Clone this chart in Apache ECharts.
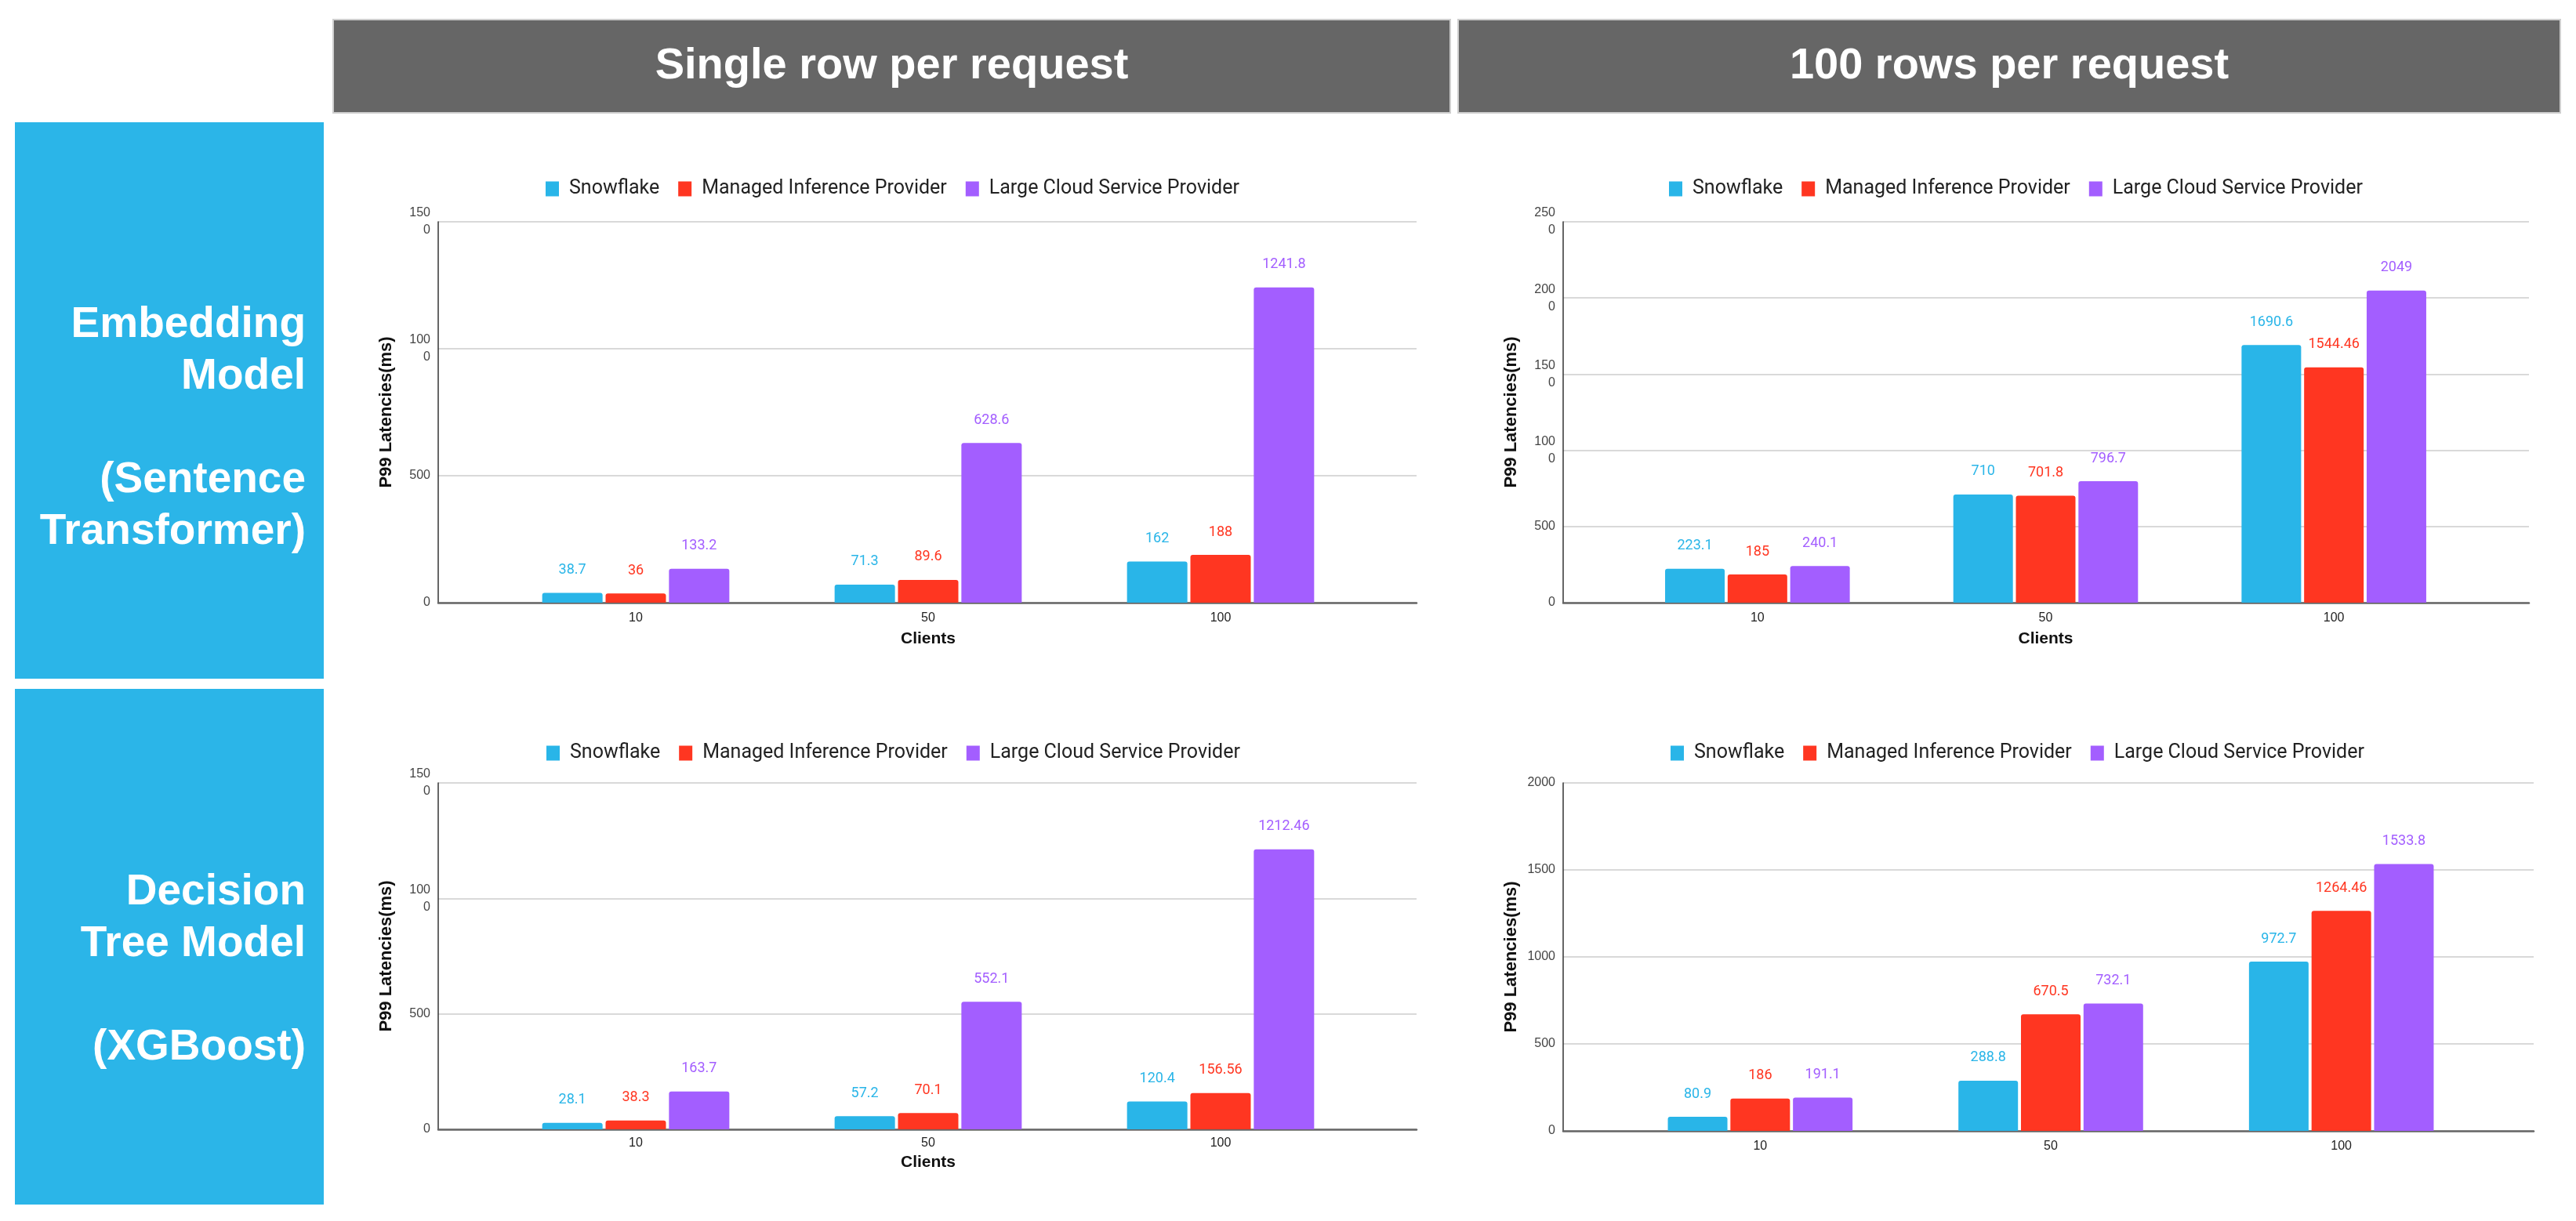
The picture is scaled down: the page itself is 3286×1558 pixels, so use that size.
<!DOCTYPE html>
<html>
<head>
<meta charset="utf-8">
<script src="https://cdn.jsdelivr.net/npm/echarts@6/dist/echarts.min.js"></script>
<style>
  html, body { margin: 0; padding: 0; background: #ffffff; }
  #chart { width: 3286px; height: 1558px; }
</style>
</head>
<body>
<div id="chart"></div>
<script>
// ---------------- DATA ----------------
const categories = ['10', '50', '100'];
const seriesNames = ['Snowflake', 'Managed Inference Provider', 'Large Cloud Service Provider'];

const columnTitles = ['Single row per request', '100 rows per request'];
const rowTitles = ['Embedding\nModel\n\n(Sentence\nTransformer)', 'Decision\nTree Model\n\n(XGBoost)'];

// Embedding model, single row per request
const embSingleSnowflake = [38.7, 71.3, 162];
const embSingleManaged   = [36, 89.6, 188];
const embSingleLarge     = [133.2, 628.6, 1241.8];

// Embedding model, 100 rows per request
const embBatchSnowflake = [223.1, 710, 1690.6];
const embBatchManaged   = [185, 701.8, 1544.46];
const embBatchLarge     = [240.1, 796.7, 2049];

// XGBoost, single row per request
const xgbSingleSnowflake = [28.1, 57.2, 120.4];
const xgbSingleManaged   = [38.3, 70.1, 156.56];
const xgbSingleLarge     = [163.7, 552.1, 1212.46];

// XGBoost, 100 rows per request
const xgbBatchSnowflake = [80.9, 288.8, 972.7];
const xgbBatchManaged   = [186, 670.5, 1264.46];
const xgbBatchLarge     = [191.1, 732.1, 1533.8];

// Y tick labels (as printed in the source, including the wrapped ones)
const yTicksEmbSingle = ['0', '500', '100\n0', '150\n0'];
const yTicksEmbBatch  = ['0', '500', '100\n0', '150\n0', '200\n0', '250\n0'];
const yTicksXgbSingle = ['0', '500', '100\n0', '150\n0'];
const yTicksXgbBatch  = ['0', '500', '1000', '1500', '2000'];
const yInterval = 500;

const yAxisTitle = 'P99 Latencies(ms)';
const xAxisTitle = 'Clients';

// ---------------- STYLE / LAYOUT ----------------
const colors = ['#29B5E8', '#FF3621', '#A35EFF'];
const axisFont = '"Liberation Sans", Arial, sans-serif';
const valFont = 'Roboto, "Liberation Sans", sans-serif';

const panels = [
  { data: [embSingleSnowflake, embSingleManaged, embSingleLarge], ticks: yTicksEmbSingle,
    bg: { left: 559, top: 283, width: 1248, height: 486 },
    fg: { left: 624.5, top: 283, width: 1119, height: 486 },
    barWidth: 77, legendLeft: 696, legendTop: 228.5, xName: true, labelMargin: 12, nameGap: 36 },
  { data: [embBatchSnowflake, embBatchManaged, embBatchLarge], ticks: yTicksEmbBatch,
    bg: { left: 1994, top: 283, width: 1232, height: 486 },
    fg: { left: 2058, top: 283, width: 1103, height: 486 },
    barWidth: 76, legendLeft: 2129, legendTop: 228.5, xName: true, labelMargin: 12, nameGap: 36 },
  { data: [xgbSingleSnowflake, xgbSingleManaged, xgbSingleLarge], ticks: yTicksXgbSingle,
    bg: { left: 559, top: 999, width: 1248, height: 442 },
    fg: { left: 624.5, top: 999, width: 1119, height: 442 },
    barWidth: 77, legendLeft: 697, legendTop: 948.5, xName: true, labelMargin: 10, nameGap: 32 },
  { data: [xgbBatchSnowflake, xgbBatchManaged, xgbBatchLarge], ticks: yTicksXgbBatch,
    bg: { left: 1994, top: 999, width: 1238, height: 444 },
    fg: { left: 2060, top: 999, width: 1112, height: 444 },
    barWidth: 76, legendLeft: 2131, legendTop: 948.5, xName: false, labelMargin: 12, nameGap: 36 }
];

const grid = [], xAxis = [], yAxis = [], series = [], legend = [];

panels.forEach((p, i) => {
  const yMax = (p.ticks.length - 1) * yInterval;
  const bgIdx = grid.length;
  grid.push(Object.assign({ containLabel: false }, p.bg));
  const fgIdx = grid.length;
  grid.push(Object.assign({ containLabel: false }, p.fg));

  // background axes: gridlines, y labels, baseline
  xAxis.push({
    type: 'category', gridIndex: bgIdx, data: categories,
    axisLine: { show: true, lineStyle: { color: '#666666', width: 2.5 } },
    axisTick: { show: false }, axisLabel: { show: false }, splitLine: { show: false }
  });
  yAxis.push({
    type: 'value', gridIndex: bgIdx, min: 0, max: yMax, interval: yInterval,
    axisLine: { show: true, lineStyle: { color: '#333333', width: 1.5 } },
    axisTick: { show: false },
    splitLine: { show: true, lineStyle: { color: '#d9d9d9', width: 2 } },
    axisLabel: {
      formatter: (v) => p.ticks[Math.round(v / yInterval)],
      fontFamily: axisFont, fontSize: 16, lineHeight: 22, color: '#444444', margin: 10
    },
    name: yAxisTitle, nameLocation: 'middle', nameGap: 55, nameRotate: 90,
    nameTextStyle: { fontFamily: axisFont, fontWeight: 'bold', fontSize: 22, color: '#111111' }
  });

  // foreground axes: categories for bars
  xAxis.push({
    type: 'category', gridIndex: fgIdx, data: categories,
    axisLine: { show: false }, axisTick: { show: false }, splitLine: { show: false },
    axisLabel: { fontFamily: axisFont, fontSize: 16, color: '#222222', margin: p.labelMargin },
    name: p.xName ? xAxisTitle : '', nameLocation: 'middle', nameGap: p.nameGap,
    nameTextStyle: { fontFamily: axisFont, fontWeight: 'bold', fontSize: 21, color: '#111111' }
  });
  yAxis.push({
    type: 'value', gridIndex: fgIdx, min: 0, max: yMax, interval: yInterval, show: false,
    splitLine: { show: false }
  });

  p.data.forEach((vals, s) => {
    series.push({
      name: seriesNames[s], type: 'bar',
      xAxisIndex: xAxis.length - 1, yAxisIndex: yAxis.length - 1,
      data: vals, barWidth: p.barWidth, barGap: '5%',
      itemStyle: { color: colors[s], borderRadius: [3, 3, 0, 0] },
      label: {
        show: true, position: 'top', distance: 20,
        fontFamily: valFont, fontSize: 18, color: colors[s]
      },
      emphasis: { disabled: true },
      animation: false
    });
  });

  legend.push({
    data: seriesNames, left: p.legendLeft, top: p.legendTop, padding: 0,
    orient: 'horizontal', icon: 'rect', itemWidth: 17, itemHeight: 19, itemGap: 24,
    textStyle: { fontFamily: valFont, fontSize: 25, color: '#222222', padding: [0, 0, 0, 8] }
  });
});

const graphic = [
  // column headers
  { type: 'rect', shape: { x: 425, y: 25, width: 1425, height: 119 },
    style: { fill: '#666666', stroke: '#cfcfcf', lineWidth: 2 }, z: 0 },
  { type: 'rect', shape: { x: 1860, y: 25, width: 1406, height: 119 },
    style: { fill: '#666666', stroke: '#cfcfcf', lineWidth: 2 }, z: 0 },
  { type: 'text', x: 1137.5, y: 85, z: 1,
    style: { text: columnTitles[0], fill: '#ffffff', font: 'bold 56px "Liberation Sans", Arial, sans-serif',
             textAlign: 'center', textVerticalAlign: 'middle' } },
  { type: 'text', x: 2563, y: 85, z: 1,
    style: { text: columnTitles[1], fill: '#ffffff', font: 'bold 56px "Liberation Sans", Arial, sans-serif',
             textAlign: 'center', textVerticalAlign: 'middle' } },
  // row headers
  { type: 'rect', shape: { x: 19, y: 156, width: 394, height: 710 },
    style: { fill: '#2BB5E8' }, z: 0 },
  { type: 'rect', shape: { x: 19, y: 879, width: 394, height: 658 },
    style: { fill: '#2BB5E8' }, z: 0 },
  { type: 'text', x: 390, y: 547, z: 1,
    style: { text: rowTitles[0], fill: '#ffffff', font: 'bold 55px "Liberation Sans", Arial, sans-serif',
             lineHeight: 66, textAlign: 'right', textVerticalAlign: 'middle' } },
  { type: 'text', x: 390, y: 1238, z: 1,
    style: { text: rowTitles[1], fill: '#ffffff', font: 'bold 55px "Liberation Sans", Arial, sans-serif',
             lineHeight: 66, textAlign: 'right', textVerticalAlign: 'middle' } }
];

const chart = echarts.init(document.getElementById('chart'), null, { renderer: 'canvas' });
chart.setOption({
  backgroundColor: '#ffffff',
  animation: false,
  grid, xAxis, yAxis, series, legend, graphic
});
</script>
</body>
</html>
